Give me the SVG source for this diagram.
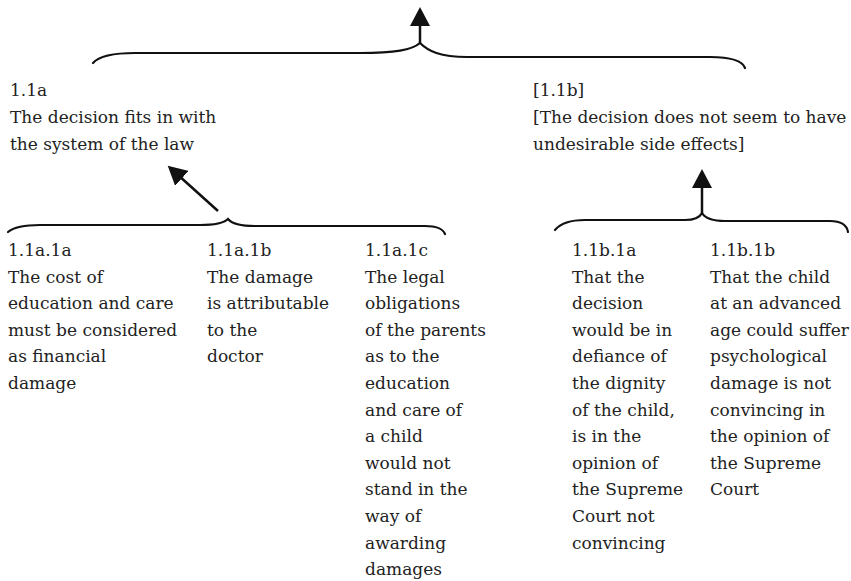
<svg xmlns="http://www.w3.org/2000/svg" width="851" height="581" viewBox="0 0 851 581">
<style>
  .t { font-family: "DejaVu Serif", "Liberation Serif", serif; font-size: 17px; fill: #222; }
  .brace { fill: none; stroke: #111; stroke-width: 2.2; stroke-linecap: round; }
  .arr { fill: none; stroke: #111; stroke-width: 2.5; }
</style>
<defs>
  <marker id="head" markerUnits="userSpaceOnUse" markerWidth="20" markerHeight="20" refX="10" refY="10" orient="auto">
    <path d="M0,0 L19,10 L0,20 z" fill="#111"/>
  </marker>
</defs>
<rect width="851" height="581" fill="#fff"/>
<g id="connectors">
  <path class="brace" d="M93,63 C100,55 115,53 135,53 L360,53 C395,53 412,50 420,43 C428,51 440,57 467,57 L710,57 C730,57 742,60 745,68"/>
  <line class="arr" x1="420" y1="43" x2="420" y2="16" marker-end="url(#head)"/>
  <path class="brace" d="M8,232 C14,227 25,225 40,225 L200,225 C215,225 224,223 228,219 C232,224 240,226 255,226 L425,226 C437,226 443,229 445,234"/>
  <line class="arr" x1="218" y1="211" x2="174.4" y2="171.7" marker-end="url(#head)"/>
  <path class="brace" d="M555,230 C560,224 570,220 585,220 L685,220 C695,220 700,217 702,213 C705,218 712,221 725,221 L830,221 C842,221 847,226 848,232"/>
  <line class="arr" x1="702" y1="213" x2="702" y2="178" marker-end="url(#head)"/>
</g>
<g id="n1_1a">
  <text class="t" x="10" y="96">1.1a<tspan x="10" dy="26.8">The decision fits in with</tspan><tspan x="10" dy="26.8">the system of the law</tspan></text>
</g>
<g id="n1_1b">
  <text class="t" x="533" y="96">[1.1b]<tspan x="533" dy="26.8">[The decision does not seem to have</tspan><tspan x="533" dy="26.8">undesirable side effects]</tspan></text>
</g>
<g id="n1_1a_1a">
  <text class="t" x="8" y="256">1.1a.1a<tspan x="8" dy="26.6">The cost of</tspan><tspan x="8" dy="26.6">education and care</tspan><tspan x="8" dy="26.6">must be considered</tspan><tspan x="8" dy="26.6">as financial</tspan><tspan x="8" dy="26.6">damage</tspan></text>
</g>
<g id="n1_1a_1b">
  <text class="t" x="207" y="256">1.1a.1b<tspan x="207" dy="26.6">The damage</tspan><tspan x="207" dy="26.6">is attributable</tspan><tspan x="207" dy="26.6">to the</tspan><tspan x="207" dy="26.6">doctor</tspan></text>
</g>
<g id="n1_1a_1c">
  <text class="t" x="365" y="256">1.1a.1c<tspan x="365" dy="26.6">The legal</tspan><tspan x="365" dy="26.6">obligations</tspan><tspan x="365" dy="26.6">of the parents</tspan><tspan x="365" dy="26.6">as to the</tspan><tspan x="365" dy="26.6">education</tspan><tspan x="365" dy="26.6">and care of</tspan><tspan x="365" dy="26.6">a child</tspan><tspan x="365" dy="26.6">would not</tspan><tspan x="365" dy="26.6">stand in the</tspan><tspan x="365" dy="26.6">way of</tspan><tspan x="365" dy="26.6">awarding</tspan><tspan x="365" dy="26.6">damages</tspan></text>
</g>
<g id="n1_1b_1a">
  <text class="t" x="572" y="256">1.1b.1a<tspan x="572" dy="26.6">That the</tspan><tspan x="572" dy="26.6">decision</tspan><tspan x="572" dy="26.6">would be in</tspan><tspan x="572" dy="26.6">defiance of</tspan><tspan x="572" dy="26.6">the dignity</tspan><tspan x="572" dy="26.6">of the child,</tspan><tspan x="572" dy="26.6">is in the</tspan><tspan x="572" dy="26.6">opinion of</tspan><tspan x="572" dy="26.6">the Supreme</tspan><tspan x="572" dy="26.6">Court not</tspan><tspan x="572" dy="26.6">convincing</tspan></text>
</g>
<g id="n1_1b_1b">
  <text class="t" x="710" y="256">1.1b.1b<tspan x="710" dy="26.6">That the child</tspan><tspan x="710" dy="26.6">at an advanced</tspan><tspan x="710" dy="26.6">age could suffer</tspan><tspan x="710" dy="26.6">psychological</tspan><tspan x="710" dy="26.6">damage is not</tspan><tspan x="710" dy="26.6">convincing in</tspan><tspan x="710" dy="26.6">the opinion of</tspan><tspan x="710" dy="26.6">the Supreme</tspan><tspan x="710" dy="26.6">Court</tspan></text>
</g>
</svg>
